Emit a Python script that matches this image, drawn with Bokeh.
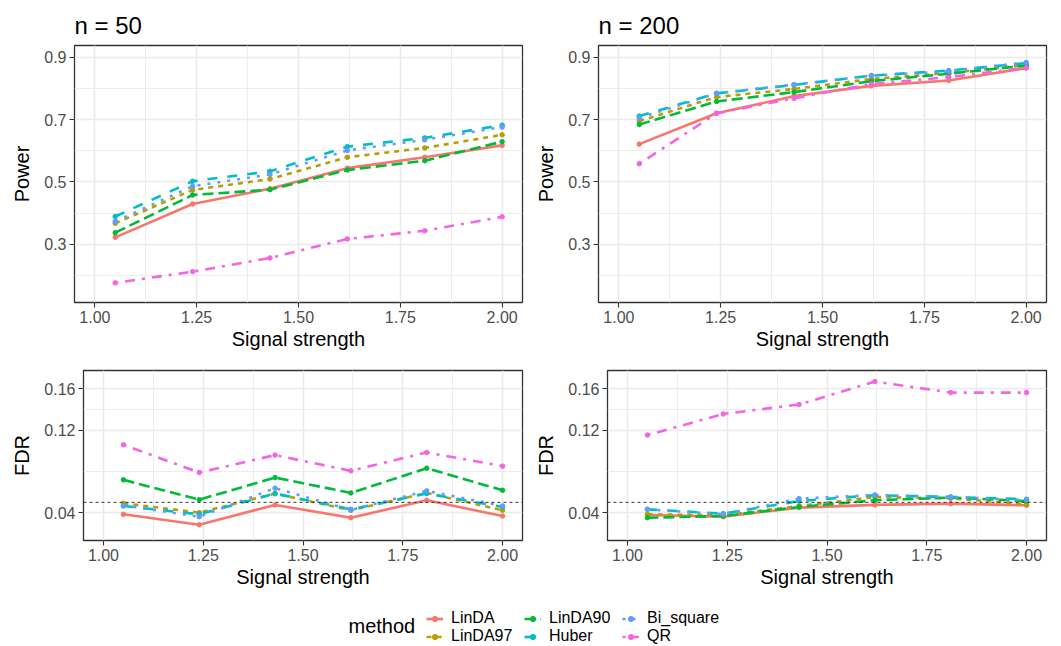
from bokeh.plotting import figure
from bokeh.layouts import column, row
from bokeh.models import (Range1d, FixedTicker, PrintfTickFormatter, Span, Title,
                          Legend, LegendItem, Label)
from bokeh.embed import file_html
from bokeh.resources import INLINE

FONT = "Liberation Sans"

signal = [1.05, 1.24, 1.43, 1.62, 1.81, 2.00]
methods = ["LinDA", "LinDA97", "LinDA90", "Huber", "Bi_square", "QR"]
colors = ["#F8766D", "#B79F00", "#00BA38", "#00BFC4", "#619CFF", "#F564E3"]
dashes = ["solid", "5 5", "11 5", "10 10", "3 7", "3 7 10 7"]

power_n50 = {
    "LinDA":     [0.322, 0.429, 0.478, 0.544, 0.579, 0.617],
    "LinDA97":   [0.367, 0.474, 0.509, 0.579, 0.609, 0.651],
    "LinDA90":   [0.337, 0.458, 0.475, 0.538, 0.568, 0.629],
    "Huber":     [0.389, 0.502, 0.534, 0.613, 0.641, 0.682],
    "Bi_square": [0.373, 0.486, 0.524, 0.601, 0.635, 0.676],
    "QR":        [0.176, 0.212, 0.256, 0.317, 0.343, 0.388],
}
power_n200 = {
    "LinDA":     [0.621, 0.720, 0.775, 0.808, 0.825, 0.865],
    "LinDA97":   [0.695, 0.772, 0.798, 0.830, 0.849, 0.875],
    "LinDA90":   [0.684, 0.758, 0.788, 0.823, 0.847, 0.873],
    "Huber":     [0.711, 0.784, 0.811, 0.841, 0.857, 0.881],
    "Bi_square": [0.705, 0.784, 0.812, 0.841, 0.855, 0.883],
    "QR":        [0.558, 0.720, 0.768, 0.814, 0.836, 0.866],
}
fdr_n50 = {
    "LinDA":     [0.0384, 0.0283, 0.0475, 0.0351, 0.0520, 0.0367],
    "LinDA97":   [0.0491, 0.0400, 0.0585, 0.0423, 0.0591, 0.0423],
    "LinDA90":   [0.0718, 0.0526, 0.0740, 0.0591, 0.0831, 0.0617],
    "Huber":     [0.0465, 0.0384, 0.0585, 0.0432, 0.0585, 0.0455],
    "Bi_square": [0.0470, 0.0361, 0.0637, 0.0426, 0.0611, 0.0465],
    "QR":        [0.1058, 0.0789, 0.0958, 0.0805, 0.0984, 0.0851],
}
fdr_n200 = {
    "LinDA":     [0.0377, 0.0361, 0.0449, 0.0475, 0.0487, 0.0471],
    "LinDA97":   [0.0384, 0.0374, 0.0465, 0.0552, 0.0539, 0.0481],
    "LinDA90":   [0.0351, 0.0367, 0.0455, 0.0520, 0.0546, 0.0513],
    "Huber":     [0.0432, 0.0390, 0.0513, 0.0569, 0.0552, 0.0530],
    "Bi_square": [0.0432, 0.0384, 0.0536, 0.0571, 0.0552, 0.0523],
    "QR":        [0.1152, 0.1357, 0.1448, 0.1671, 0.1564, 0.1564],
}

x_ticks = [1.0, 1.25, 1.5, 1.75, 2.0]
x_minor = [1.125, 1.375, 1.625, 1.875]
power_ticks = [0.3, 0.5, 0.7, 0.9]
power_minor = [0.2, 0.4, 0.6, 0.8]
fdr_ticks = [0.04, 0.12, 0.16]
fdr_minor = [0.08, 0.14]
fdr_target = 0.05

LW = 2.6


def panel(data, ylab, yr, yticks, yminor, yfmt, title, fw, fh, bl, br, bt, bb, hline=None):
    p = figure(frame_width=fw, frame_height=fh, min_border_left=bl, min_border_right=br,
               min_border_top=bt, min_border_bottom=bb,
               x_range=Range1d(0.95, 2.05), y_range=Range1d(*yr),
               output_backend="svg", toolbar_location=None, tools="")
    p.background_fill_color = "white"
    p.border_fill_color = "white"
    p.outline_line_color = "#333333"
    p.outline_line_width = 1.3
    if title:
        p.title = Title(text=title, align="left", text_font=FONT, text_font_size="24px",
                        text_font_style="normal", text_color="black", standoff=9,
                        vertical_align="top")
    p.xaxis.ticker = FixedTicker(ticks=x_ticks, minor_ticks=x_minor)
    p.yaxis.ticker = FixedTicker(ticks=yticks, minor_ticks=yminor)
    p.xaxis.formatter = PrintfTickFormatter(format="%.2f")
    p.yaxis.formatter = PrintfTickFormatter(format=yfmt)
    p.xaxis.axis_label = "Signal strength"
    p.yaxis.axis_label = ylab
    for ax in (p.xaxis[0], p.yaxis[0]):
        ax.axis_line_color = None
        ax.major_tick_line_color = "#333333"
        ax.major_tick_line_width = 1.1
        ax.major_tick_out = 5
        ax.major_tick_in = 0
        ax.minor_tick_line_color = None
        ax.major_label_text_font = FONT
        ax.major_label_text_font_size = "16px"
        ax.major_label_text_color = "#4D4D4D"
        ax.major_label_standoff = 3
        ax.axis_label_text_font = FONT
        ax.axis_label_text_font_size = "20px"
        ax.axis_label_text_font_style = "normal"
        ax.axis_label_text_color = "black"
    p.xaxis.axis_label_standoff = 2
    p.yaxis.axis_label_standoff = 8
    for g in (p.xgrid[0], p.ygrid[0]):
        g.grid_line_color = "#EBEBEB"
        g.grid_line_width = 1.6
        g.minor_grid_line_color = "#EBEBEB"
        g.minor_grid_line_width = 0.9
    if hline is not None:
        p.add_layout(Span(location=hline, dimension="width", line_color="#333333",
                          line_dash="3 3", line_width=1))
    for m, c, d in zip(methods, colors, dashes):
        p.line(signal, data[m], line_color=c, line_width=LW, line_dash=d)
    for m, c in zip(methods, colors):
        p.scatter(signal, data[m], size=4.5, fill_color=c, line_color=c)
    return p


p1 = panel(power_n50, "Power", (0.113, 0.9375), power_ticks, power_minor, "%.1f", "n = 50",
           448, 257, 74, 8, 45, 58)
p2 = panel(power_n200, "Power", (0.113, 0.9375), power_ticks, power_minor, "%.1f", "n = 200",
           448, 257, 68, 15, 45, 58)
p3 = panel(fdr_n50, "FDR", (0.013, 0.1778), fdr_ticks, fdr_minor, "%.2f", None,
           439, 170, 83, 8, 10, 60, hline=fdr_target)
p4 = panel(fdr_n200, "FDR", (0.013, 0.1778), fdr_ticks, fdr_minor, "%.2f", None,
           439, 170, 77, 15, 10, 60, hline=fdr_target)

# legend strip (key renderers hold off-canvas data so only the legend shows them)
lg = figure(width=1061, height=46, min_border=0, output_backend="svg",
            toolbar_location=None, tools="", x_axis_location=None, y_axis_location=None,
            x_range=Range1d(0, 1), y_range=Range1d(0, 1))
lg.outline_line_color = None
lg.grid.visible = False
items = []
for m, c, d in zip(methods, colors, dashes):
    r1 = lg.line([5, 6], [5, 6], line_color=c, line_width=LW, line_dash=d)
    r2 = lg.scatter([5], [5], size=4.5, fill_color=c, line_color=c)
    items.append(LegendItem(label=m, renderers=[r1, r2]))
leg = Legend(items=items, location=(426, 1), orientation="vertical", nrows=2,
             glyph_width=17, glyph_height=13, label_height=13, label_width=73,
             label_standoff=8, spacing=0, padding=0, margin=0, border_line_color=None,
             background_fill_color=None, label_text_font=FONT, label_text_font_size="16px",
             label_text_color="black", label_text_baseline="middle")
lg.add_layout(leg)
lg.add_layout(Label(x=348, y=21, x_units="screen", y_units="screen", text="method",
                    text_font=FONT, text_font_size="20px", text_baseline="middle",
                    text_color="black"))

layout = column(row(p1, p2), row(p3, p4), lg)
open("out.html", "w").write(file_html(layout, INLINE))
